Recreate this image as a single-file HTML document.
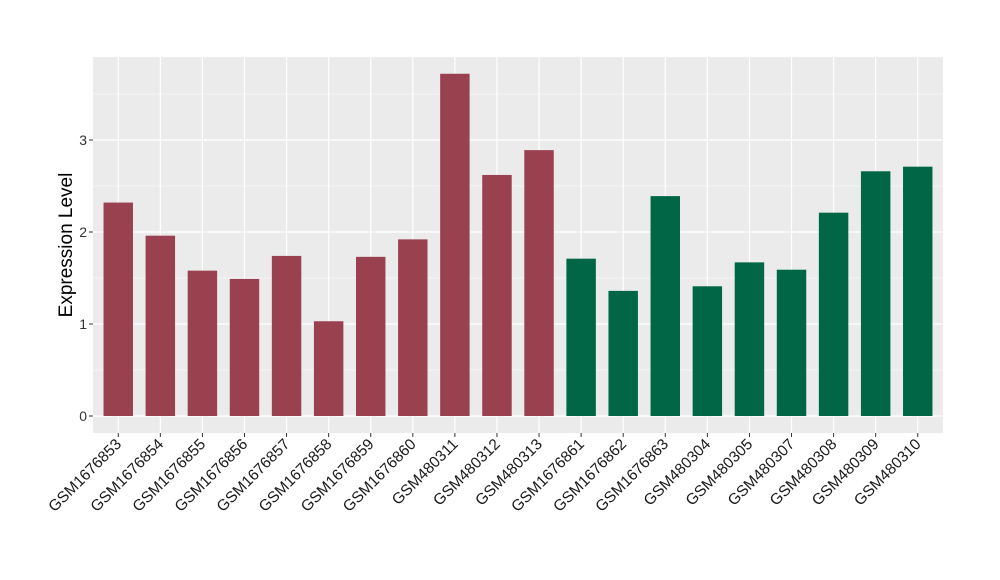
<!DOCTYPE html>
<html><head><style>body{margin:0;background:#fff}svg{display:block}</style></head><body>
<svg width="1000" height="580" xmlns="http://www.w3.org/2000/svg" font-family="Liberation Sans, DejaVu Sans, sans-serif">
<rect x="93" y="57" width="850" height="376" fill="#EBEBEB"/>
<g stroke="#fff" stroke-width="0.6">
<line x1="93" x2="943" y1="370" y2="370"/><line x1="93" x2="943" y1="278" y2="278"/><line x1="93" x2="943" y1="186" y2="186"/><line x1="93" x2="943" y1="94" y2="94"/>
</g>
<g stroke="#fff" stroke-width="1.2">
<line x1="93" x2="943" y1="416" y2="416"/><line x1="93" x2="943" y1="324" y2="324"/><line x1="93" x2="943" y1="232" y2="232"/><line x1="93" x2="943" y1="140" y2="140"/>
</g>
<g stroke="#fff" stroke-width="1.2" id="grid"></g>
<g id="bars"></g>
<g font-size="14" fill="#333" text-anchor="end">
<text x="87" y="421">0</text><text x="87" y="329">1</text><text x="87" y="237">2</text><text x="87" y="145">3</text>
</g>
<g stroke="#333" stroke-width="1"><line x1="89" x2="93" y1="416" y2="416"/><line x1="89" x2="93" y1="324" y2="324"/><line x1="89" x2="93" y1="232" y2="232"/><line x1="89" x2="93" y1="140" y2="140"/></g>
<text transform="translate(72,245) rotate(-90)" text-anchor="middle" font-size="19" fill="#000">Expression Level</text>
<g id="labels" font-size="15.5" fill="#1a1a1a" text-anchor="end"></g>
<g id="ticks" stroke="#333"></g>
</svg>
<script>
var v=[2.32,1.96,1.58,1.49,1.74,1.03,1.73,1.92,3.72,2.62,2.89,1.71,1.36,2.39,1.41,1.67,1.59,2.21,2.66,2.71];
var n=["GSM1676853","GSM1676854","GSM1676855","GSM1676856","GSM1676857","GSM1676858","GSM1676859","GSM1676860","GSM480311","GSM480312","GSM480313","GSM1676861","GSM1676862","GSM1676863","GSM480304","GSM480305","GSM480307","GSM480308","GSM480309","GSM480310"];
var ns="http://www.w3.org/2000/svg";
function el(t,a,p){var e=document.createElementNS(ns,t);for(var k in a)e.setAttribute(k,a[k]);document.getElementById(p).appendChild(e);return e;}
var s=850/20.2;
for(var i=0;i<20;i++){var c=93+s*(i+0.6);
el("line",{x1:c,x2:c,y1:57,y2:433},"grid");
var h=v[i]*92;el("rect",{x:c-0.35*s,y:416-h,width:0.7*s,height:h,fill:i<11?"#9A4150":"#006646"},"bars");
el("line",{x1:c,x2:c,y1:433,y2:437},"ticks");
var t=el("text",{transform:"translate("+(c+4)+",445) rotate(-45)"},"labels");t.textContent=n[i];}
</script>
</body></html>
